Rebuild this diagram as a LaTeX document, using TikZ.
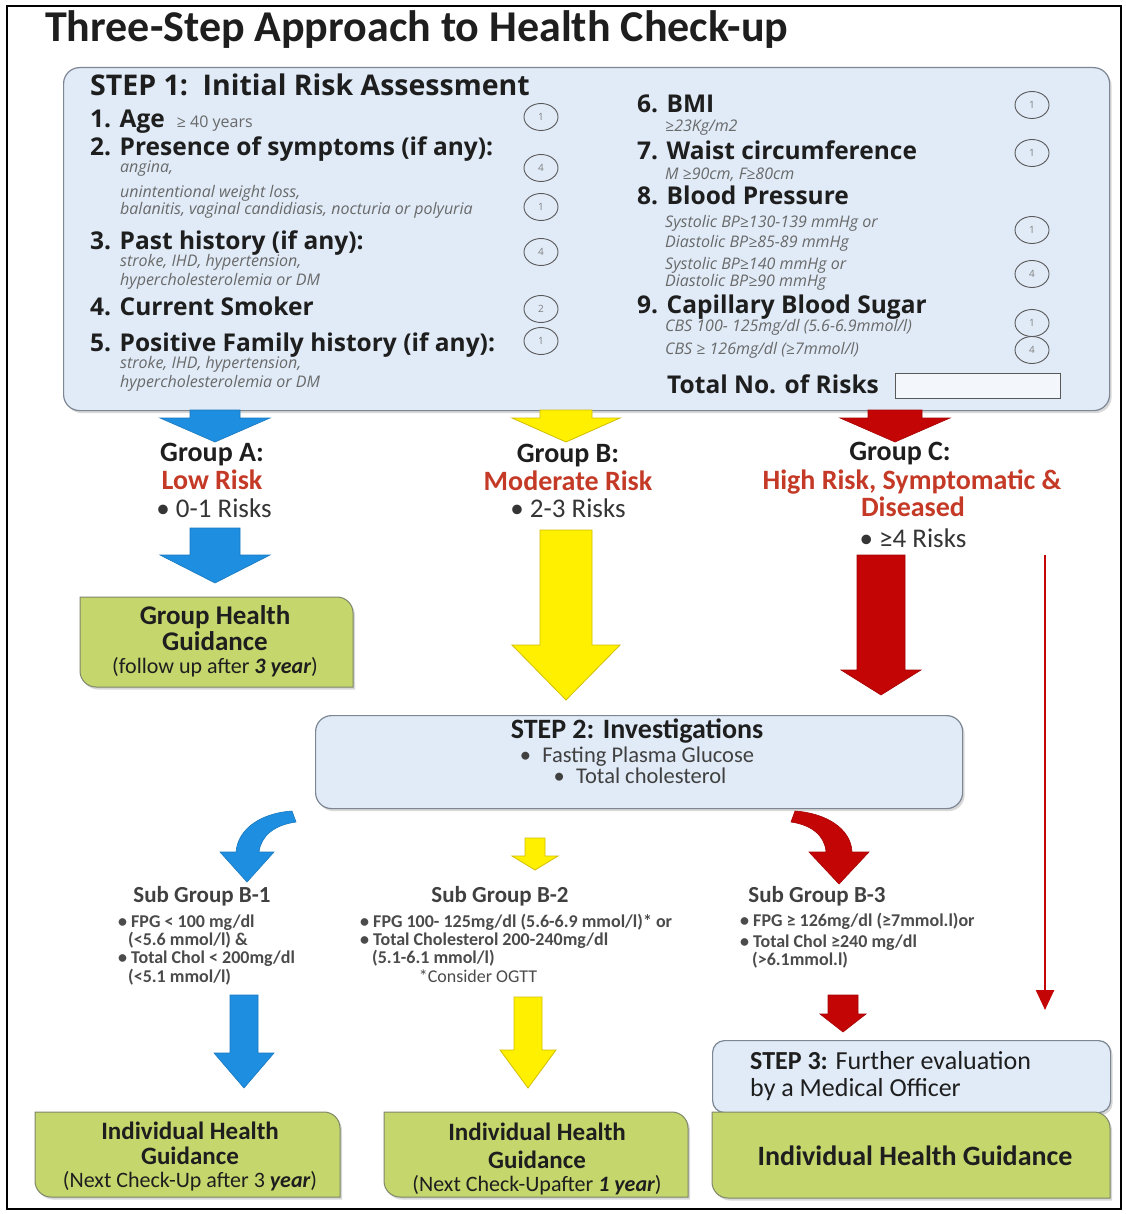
\documentclass[tikz,border=0pt]{standalone}
\usepackage{fontspec}
\setmainfont{Carlito}
\newfontfamily\osf{Open Sans}
\usetikzlibrary{shapes.geometric,shadows,arrows.meta}
\definecolor{lbfill}{RGB}{224,235,247}
\definecolor{lbdraw}{RGB}{125,135,148}
\definecolor{grfill}{RGB}{197,214,108}
\definecolor{grdraw}{RGB}{125,135,105}
\definecolor{bluearr}{RGB}{30,142,224}
\definecolor{yelarr}{RGB}{255,240,0}
\definecolor{yeldraw}{RGB}{210,190,0}
\definecolor{redarr}{RGB}{195,5,5}
\definecolor{redtxt}{RGB}{196,58,38}
\definecolor{subgray}{RGB}{105,105,105}
\definecolor{dk}{RGB}{30,30,30}
\newcommand\blkarrow[7]{%
  \filldraw[#7] ({#1-#4},#2) -- ({#1+#4},#2) -- ({#1+#4},{#3-#6}) -- ({#1+#5},{#3-#6}) -- (#1,#3) -- ({#1-#5},{#3-#6}) -- ({#1-#4},{#3-#6}) -- cycle;}
\newcommand\dgbox[6]{%
  \filldraw[#6] (#1,#2) -- ({#3-#5},#2) .. controls ({#3-0.448*#5},#2) and (#3,{#2+0.448*#5}) .. (#3,{#2+#5}) -- (#3,#4) -- ({#1+#5},#4) .. controls ({#1+0.448*#5},#4) and (#1,{#4-0.448*#5}) .. (#1,{#4-#5}) -- cycle;}
\begin{document}
\begin{tikzpicture}[x=1pt,y=-1pt,
  shd/.style={drop shadow={opacity=0.3,shadow xshift=2pt,shadow yshift=-2.5pt}},
  stepbox/.style={draw=lbdraw,fill=lbfill,line width=1.2pt,rounded corners=16pt,shd},
  greenbox/.style={draw=grdraw,fill=grfill,line width=1pt,shd},
  bluearrow/.style={fill=bluearr,draw=bluearr!85!black,line width=0.6pt},
  yelarrow/.style={fill=yelarr,draw=yeldraw,line width=0.8pt},
  redarrow/.style={fill=redarr,draw=redarr!85!black,line width=0.6pt},
  hd/.style={anchor=base west,inner sep=0pt,font=\osf\bfseries\fontsize{24.5}{28}\selectfont,text=dk},
  sb/.style={anchor=base west,inner sep=0pt,font=\osf\itshape\fontsize{16}{18}\selectfont,text=subgray},
  circ/.style={ellipse,draw=gray!70!black,line width=0.9pt,minimum width=34pt,minimum height=27pt,inner sep=0pt,font=\osf\fontsize{10}{12}\selectfont,text=gray},
  grp/.style={anchor=base,inner sep=0pt,font=\bfseries\fontsize{28}{32}\selectfont,text=dk},
  risk/.style={anchor=base,inner sep=0pt,font=\bfseries\fontsize{28}{32}\selectfont,text=redtxt},
  cnt/.style={anchor=base,inner sep=0pt,font=\fontsize{27}{32}\selectfont,text=dk!90},
  boxt/.style={anchor=base,inner sep=0pt,font=\bfseries\fontsize{27}{32}\selectfont,text=dk},
  boxs/.style={anchor=base,inner sep=0pt,font=\fontsize{22}{24}\selectfont,text=dk},
  sgh/.style={anchor=base,inner sep=0pt,font=\bfseries\fontsize{23}{26}\selectfont,text=dk!85},
  sgt/.style={anchor=base west,inner sep=0pt,font=\bfseries\fontsize{18}{20}\selectfont,text=dk!80}
]
\useasboundingbox (0,0) rectangle (1125,1214);
\fill[white] (0,0) rectangle (1125,1214);
\draw[line width=1.5pt] (7,6) rectangle (1121,1209);

% title
\node[anchor=base west,inner sep=0pt,font=\bfseries\fontsize{44}{50}\selectfont,text=dk] (title) at (45,42) {Three-Step Approach to Health Check-up};

% STEP 1 box
\node[stepbox,anchor=north west,minimum width=1046pt,minimum height=343pt] (s1) at (63,67) {};
\node[hd,font=\osf\bfseries\fontsize{28.5}{32}\selectfont] (s1t) at (90,96) {STEP 1:\, Initial Risk Assessment};

\node[hd] (i1) at (90,128) {1. Age\hspace{12pt}{\osf\mdseries\fontsize{16}{18}\selectfont\color{subgray}≥ 40 years}};
\node[hd] (i2) at (90,156) {2. Presence of symptoms (if any):};
\node[sb] (i2a) at (120,173) {angina,};
\node[sb] (i2b) at (120,198) {unintentional weight loss,};
\node[sb] (i2c) at (120,215) {balanitis, vaginal candidiasis, nocturia or polyuria};
\node[hd] (i3) at (90,250) {3. Past history (if any):};
\node[sb] (i3a) at (120,267) {stroke, IHD, hypertension,};
\node[sb] (i3b) at (120,286) {hypercholesterolemia or DM};
\node[hd] (i4) at (90,316) {4. Current Smoker};
\node[hd] (i5) at (90,351) {5. Positive Family history (if any):};
\node[sb] (i5a) at (120,368) {stroke, IHD, hypertension,};
\node[sb] (i5b) at (120,387) {hypercholesterolemia or DM};

\node[circ] (c1) at (541,117) {1};
\node[circ] (c2) at (541,168) {4};
\node[circ] (c3) at (541,207) {1};
\node[circ] (c4) at (541,252) {4};
\node[circ] (c5) at (541,309) {2};
\node[circ] (c6) at (541,341) {1};

\node[hd] (i6) at (637,113) {6. BMI};
\node[sb] (i6a) at (665,132) {≥23Kg/m2};
\node[hd] (i7) at (637,160) {7. Waist circumference};
\node[sb] (i7a) at (665,180) {M ≥90cm, F≥80cm};
\node[hd] (i8) at (637,205) {8. Blood Pressure};
\node[sb] (i8a) at (665,228) {Systolic BP≥130-139 mmHg or};
\node[sb] (i8b) at (665,248) {Diastolic BP≥85-89 mmHg};
\node[sb] (i8c) at (665,270) {Systolic BP≥140 mmHg or};
\node[sb] (i8d) at (665,287) {Diastolic BP≥90 mmHg};
\node[hd] (i9) at (637,313) {9. Capillary Blood Sugar};
\node[sb] (i9a) at (665,331) {CBS 100- 125mg/dl (5.6-6.9mmol/l)};
\node[sb] (i9b) at (665,354) {CBS ≥ 126mg/dl (≥7mmol/l)};
\node[hd] (tot) at (667,393) {Total No. of Risks};
\node[draw=gray!70!black,fill=white!60!lbfill,line width=1pt,anchor=north west,minimum width=165pt,minimum height=25pt,inner sep=0pt] (totbox) at (895,373) {};

\node[circ] (d1) at (1032,105) {1};
\node[circ] (d2) at (1032,153) {1};
\node[circ] (d3) at (1032,230) {1};
\node[circ] (d4) at (1032,274) {4};
\node[circ] (d5) at (1032,323) {1};
\node[circ] (d6) at (1032,350) {4};

% top arrows
\blkarrow{215}{410}{442}{25}{55}{24}{bluearrow}
\blkarrow{566}{410}{442}{26}{54}{24}{yelarrow}
\blkarrow{895}{410}{442}{27}{55}{24}{redarrow}

% groups
\node[grp] (ga) at (212,461) {Group A:};
\node[risk] (ra) at (212,489) {Low Risk};
\node[cnt] (na) at (214,517) {• 0-1 Risks};
\node[grp] (gb) at (568,462) {Group B:};
\node[risk] (rb) at (568,490) {Moderate Risk};
\node[cnt] (nb) at (568,517) {• 2-3 Risks};
\node[grp] (gc) at (900,460) {Group C:};
\node[risk] (rc) at (912,489) {High Risk, Symptomatic \&};
\node[risk] (rc2) at (913,516) {Diseased};
\node[cnt] (nc) at (913,547) {• ≥4 Risks};

% second arrows
\blkarrow{215}{528}{583}{25}{55}{28}{bluearrow}
\blkarrow{566}{530}{700}{26}{54}{55}{yelarrow}
\blkarrow{881}{555}{695}{24}{40}{25}{redarrow}
\coordinate (rl1) at (1045,555);
\coordinate (rl2) at (1045,1010);
\draw[redarr,line width=2.5pt,-{Triangle[width=18pt,length=20pt]}] (rl1) -- (rl2);

% group health guidance
\dgbox{80}{597}{353}{687}{16}{greenbox}
\node[boxt] (ghg1) at (215,624) {Group Health};
\node[boxt] (ghg2) at (215,650) {Guidance};
\node[boxs] (ghg3) at (215,673) {(follow up after {\bfseries\itshape 3 year})};

% STEP 2
\node[stepbox,anchor=north west,minimum width=647pt,minimum height=93pt] (s2) at (315,715) {};
\node[anchor=base,inner sep=0pt,font=\bfseries\fontsize{28}{30}\selectfont,text=dk] (s2t) at (637,738) {STEP 2: Investigations};
\node[anchor=base,inner sep=0pt,font=\fontsize{22.5}{24}\selectfont,text=dk!85] (s2a) at (637,762) {•\; Fasting Plasma Glucose};
\node[anchor=base,inner sep=0pt,font=\fontsize{22.5}{24}\selectfont,text=dk!85] (s2b) at (640,783) {•\; Total cholesterol};

% curved arrows
\filldraw[bluearrow] (292,811) .. controls (262,813) and (238,828) .. (236,852) -- (220,852) -- (247,882) -- (274,852) -- (259,852) .. controls (261,836) and (274,825) .. (296,822) -- cycle;
\blkarrow{535}{838}{870}{10}{23}{14}{yelarrow}
\filldraw[redarrow] (795,811) .. controls (825,813) and (851,828) .. (852,852) -- (869,852) -- (839,884) -- (809,852) -- (826,852) .. controls (825,836) and (812,825) .. (791,822) -- cycle;

% sub groups
\node[sgh] (sg1) at (202,902) {Sub Group B-1};
\node[sgt] (sg1a) at (118,927) {• FPG < 100 mg/dl};
\node[sgt] (sg1b) at (128,945) {(<5.6 mmol/l) \&};
\node[sgt] (sg1c) at (118,963) {• Total Chol < 200mg/dl};
\node[sgt] (sg1d) at (128,982) {(<5.1 mmol/l)};

\node[sgh] (sg2) at (500,902) {Sub Group B-2};
\node[sgt] (sg2a) at (360,927) {• FPG 100- 125mg/dl (5.6-6.9 mmol/l)* or};
\node[sgt] (sg2b) at (360,945) {• Total Cholesterol 200-240mg/dl};
\node[sgt] (sg2c) at (372,963) {(5.1-6.1 mmol/l)};
\node[anchor=base,inner sep=0pt,font=\fontsize{18}{20}\selectfont,text=dk!80] (sg2d) at (478,982) {*Consider OGTT};

\node[sgh] (sg3) at (817,902) {Sub Group B-3};
\node[sgt] (sg3a) at (740,926) {• FPG ≥ 126mg/dl (≥7mmol.l)or};
\node[sgt] (sg3b) at (740,947) {• Total Chol ≥240 mg/dl};
\node[sgt] (sg3c) at (752,965) {(>6.1mmol.l)};

% lower arrows
\blkarrow{244}{995}{1088}{14}{30}{35}{bluearrow}
\blkarrow{528}{997}{1088}{14}{28}{38}{yelarrow}
\blkarrow{843}{995}{1032}{15}{23}{18}{redarrow}

% STEP 3
\node[stepbox,anchor=north west,minimum width=398pt,minimum height=72pt,rounded corners=12pt] (s3) at (712,1040) {};
\node[anchor=base west,inner sep=0pt,font=\fontsize{26}{30}\selectfont,text=dk] (s3a) at (750,1069) {{\bfseries STEP 3:} Further evaluation};
\node[anchor=base west,inner sep=0pt,font=\fontsize{26}{30}\selectfont,text=dk] (s3b) at (750,1096) {by a Medical Officer};

% bottom boxes
\dgbox{35}{1112}{340}{1197}{16}{greenbox}
\node[boxt,font=\bfseries\fontsize{25}{30}\selectfont] (b1a) at (190,1139) {Individual Health};
\node[boxt,font=\bfseries\fontsize{25}{30}\selectfont] (b1b) at (190,1164) {Guidance};
\node[boxs] (b1c) at (190,1187) {(Next Check-Up after 3 {\bfseries\itshape year})};

\dgbox{384}{1112}{688}{1197}{16}{greenbox}
\node[boxt,font=\bfseries\fontsize{25}{30}\selectfont] (b2a) at (537,1140) {Individual Health};
\node[boxt,font=\bfseries\fontsize{25}{30}\selectfont] (b2b) at (537,1168) {Guidance};
\node[boxs] (b2c) at (537,1191) {(Next Check-Upafter {\bfseries\itshape 1 year})};

\dgbox{712}{1112}{1110}{1198}{16}{greenbox}
\node[boxt,font=\bfseries\fontsize{28}{32}\selectfont] (b3a) at (915,1165) {Individual Health Guidance};
\end{tikzpicture}
\end{document}
